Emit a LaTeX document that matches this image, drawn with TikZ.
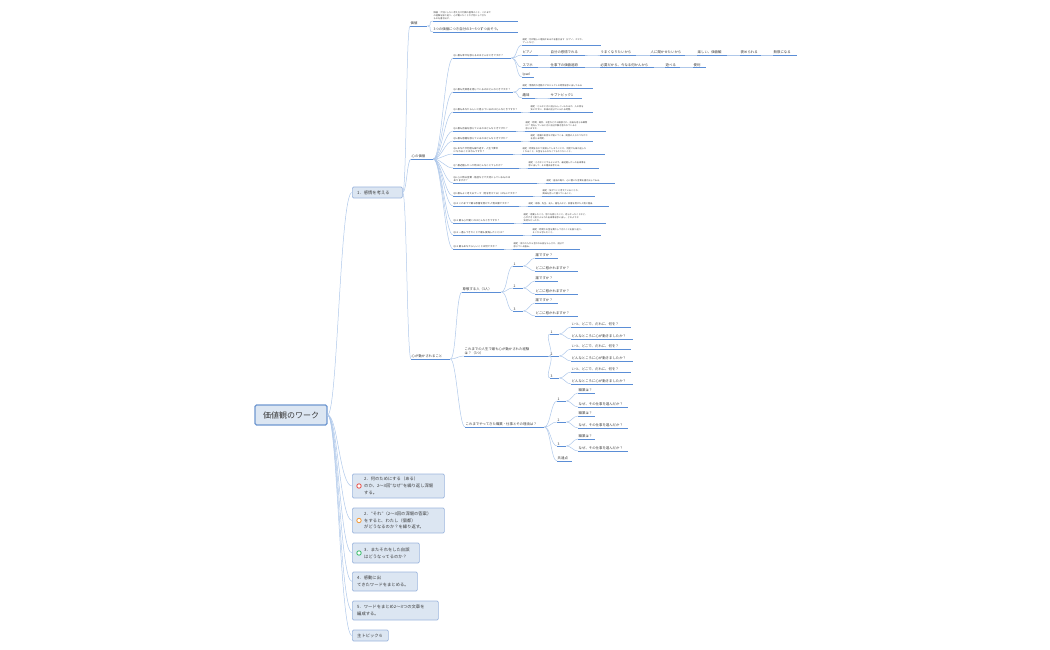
\documentclass[tikz,border=0pt]{standalone}
\usepackage{fontspec}
\newfontfamily\jp{Noto Sans CJK JP}
\definecolor{txt}{HTML}{3A3A3A}
\definecolor{ulc}{HTML}{5B8ED6}
\definecolor{cnc}{HTML}{AFC8EA}
\definecolor{boxf}{HTML}{DCE6F2}
\definecolor{boxd}{HTML}{9BB5DD}
\definecolor{rootd}{HTML}{6E97D0}
\definecolor{icr}{HTML}{E8554E}
\definecolor{ico}{HTML}{F39C3D}
\definecolor{icg}{HTML}{3DBE6E}
\tikzset{
  tp/.style={anchor=south west, inner xsep=0.5pt, inner ysep=0.7pt, align=left, text=txt},
  l3/.style={font=\jp\fontsize{3.4}{4.3}\selectfont},
  qs/.style={font=\jp\fontsize{2.4}{3.3}\selectfont},
  nt/.style={font=\jp\fontsize{2.2}{3.2}\selectfont},
  ul/.style={draw=ulc, line width=0.6pt},
  cn/.style={draw=cnc, line width=0.5pt},
  rootbox/.style={draw=rootd, fill=boxf, line width=1.1pt, rounded corners=1.5pt, minimum width=72pt, minimum height=20pt, text=txt, font=\jp\fontsize{8}{9}\selectfont},
  brbox/.style={draw=boxd, fill=boxf, line width=0.7pt, rounded corners=1.2pt, anchor=west, inner sep=0pt},
  brtext/.style={anchor=west, align=left, inner sep=0pt, text=txt, font=\jp\fontsize{4.3}{6.8}\selectfont},
  ic/.style={circle, draw=#1, fill=white, line width=0.9pt, inner sep=0pt, minimum size=4.4pt}
}
\newcommand\tpc[7][6]{%
  \node[tp,#6,text width=#5pt] (#2) at (#4) {#7};
  \draw[ul] (#2.south west) -- (#2.south east);
  \draw[cn] (#3) .. controls +(#1,0) and +(-#1,0) .. (#2.south west);
}
\begin{document}
\begin{tikzpicture}[x=1pt,y=-1pt]
\useasboundingbox (0,0) rectangle (1050,650);

% root
\node[rootbox] (root) at (291,415) {価値観のワーク};

% branch boxes
\node[brbox, minimum width=50pt, minimum height=11pt] (b1) at (352,192.5) {};
\node[brtext] (b1t) at (357,192.5) {1．感情を考える};
\node[brbox, minimum width=92pt, minimum height=24pt] (b2) at (352,486) {};
\node[ic=icr] (b2i) at (359,486) {};
\node[brtext] (b2t) at (364,486) {2．何のためにする（ある）\\のか、2～3回“なぜ”を繰り返し深堀\\する。};
\node[brbox, minimum width=92pt, minimum height=25pt] (b3) at (352,520.5) {};
\node[ic=ico] (b3i) at (359,520.5) {};
\node[brtext] (b3t) at (364,520.5) {2．“それ”（2～3回の深堀の答案）\\をすると、わたし（個都）\\がどうなるのか？を繰り返す。};
\node[brbox, minimum width=67pt, minimum height=20pt] (b4) at (352,553) {};
\node[ic=icg] (b4i) at (359,553) {};
\node[brtext] (b4t) at (364,553) {3．またそれをした自誤\\はどうなってるのか？};
\node[brbox, minimum width=65pt, minimum height=19pt] (b5) at (352,581.5) {};
\node[brtext] (b5t) at (357,581.5) {4．感動に出\\てきたワードをまとめる。};
\node[brbox, minimum width=86pt, minimum height=19pt] (b6) at (352,610.5) {};
\node[brtext] (b6t) at (357,610.5) {5．ワードをまとめ2～3つの文章を\\編成する。};
\node[brbox, minimum width=36pt, minimum height=11pt] (b7) at (352,635.5) {};
\node[brtext] (b7t) at (357,635.5) {主トピック６};

\foreach \b in {b1,b2,b3,b4,b5,b6,b7}
  \draw[cn] (root.east) .. controls +(10,0) and +(-12,0) .. (\b.west);

% level 2 under b1
\tpc[4]{kachi}{b1.east}{410,26}{16}{l3}{価値}
\tpc[4]{kokoro}{b1.east}{411,159}{21}{l3}{心の価値}
\tpc[4]{ugoku}{b1.east}{411,359}{38}{l3}{心が動かされること}

% under kachi
\tpc{kn}{kachi.south east}{433,21}{84}{nt}{価値：大切にしたい考え方や判断の基準のこと。これまで\\の経験を振り返り、心が動いたことや大切にしてきた\\ものを書き出す。}
\tpc{k3}{kachi.south east}{433,32}{84}{l3}{3つの価値につき自分の3～5つずつ出そう。}

% Q items under kokoro
\tpc[8]{q1}{kokoro.south east}{453,58}{57}{qs}{Q1 最も幸せを感じるのはどんなときですか？}
\tpc[8]{q2}{kokoro.south east}{453,92}{59}{qs}{Q2 最も充実感を感じているのはどんなときですか？}
\tpc[8]{q3}{kokoro.south east}{453,112}{67}{qs}{Q3 最もあなたらしいと感じているのはどんなときですか？}
\tpc[8]{q4}{kokoro.south east}{453,131}{62}{qs}{Q4 最も自由を感じているのはどんなときですか？}
\tpc[8]{q5}{kokoro.south east}{453,141}{67}{qs}{Q5 最も感謝を感じているのはどんなときですか？}
\tpc[8]{q6}{kokoro.south east}{453,154}{59}{qs}{Q6 あなたが何度も繰り返す、人生で夢中\\になれることはなんですか？}
\tpc[8]{q7}{kokoro.south east}{453,168}{65}{qs}{Q7 最近嬉しかった時はどんなことでしたか？}
\tpc[8]{q8}{kokoro.south east}{453,183}{83}{qs}{Q8 心に残る言葉・格言などで大切にしているものは\\ありますか？}
\tpc[8]{q9}{kokoro.south east}{453,196}{79}{qs}{Q9 最もよく考えるテーマ（何を考えてる）はなんですか？}
\tpc[8]{q10}{kokoro.south east}{453,206}{65}{qs}{Q10 これまでで最も影響を受けた人物は誰ですか？}
\tpc[8]{q11}{kokoro.south east}{453,223}{60}{qs}{Q11 最も心が動くのはどんなときですか？}
\tpc[8]{q12}{kokoro.south east}{453,235}{69}{qs}{Q12 一番してきたことで最も後悔したことは？}
\tpc[8]{q13}{kokoro.south east}{453,249}{50}{qs}{Q13 最もあなたらしいことは何ですか？}

% Q1 children
\tpc{n1}{q1.south east}{522,45}{78}{nt}{補足：何が嬉しい理由かあるかを書き出す（ピアノ、スマホ、\\アートなど）}
\tpc{piano}{q1.south east}{522,55}{15}{l3}{ピアノ}
\tpc{p1}{piano.south east}{550,55}{34}{l3}{自分の感情でれる}
\tpc{p2}{p1.south east}{600,55}{35}{l3}{うまくなりたいから}
\tpc{p3}{p2.south east}{650,55}{34}{l3}{人に聞かせたいから}
\tpc{p4}{p3.south east}{697,55}{29}{l3}{楽しい、価値観}
\tpc{p5}{p4.south east}{740,55}{20}{l3}{褒められる}
\tpc{p6}{p5.south east}{773,55}{23}{l3}{無限になる}
\tpc{sumaho}{q1.south east}{522,67.5}{15}{l3}{スマホ}
\tpc{s1}{sumaho.south east}{550,67.5}{34}{l3}{仕事下の価値追跡}
\tpc{s2}{s1.south east}{600,67.5}{53}{l3}{必要だから、今なる何かんから}
\tpc{s3}{s2.south east}{665,67.5}{14}{l3}{遊べる}
\tpc{s4}{s3.south east}{693,67.5}{12}{l3}{便利}
\tpc{ipad}{q1.south east}{522,77}{11}{l3}{Ipad}

% Q2 children
\tpc{n2}{q2.south east}{522,88}{70}{nt}{補足：情熱的な活動やプロジェクトの時間を思い出してみる}
\tpc{shumi}{q2.south east}{522,98}{12}{l3}{趣味}
\tpc{sub1}{shumi.south east}{550,98}{31}{l3}{サブトピック1}

% notes Q3 - Q13
\tpc{n3}{q3.south east}{530,112}{62}{nt}{補足：どんなときに自分らしくいられるか、人の目を\\気にせずに、本来の自分でいられる時間。}
\tpc{n4}{q4.south east}{525,131}{80}{nt}{補足：時間、場所、お金などから解放され、自由を感じる瞬間\\は？ 何をしているときに自分が解き放たれていると\\感じますか。}
\tpc{n5}{q5.south east}{530,141}{62}{nt}{補足：感謝の気持ちが湧いてくる、周囲の人とのつながり\\を感じる時間。}
\tpc{n6}{q6.south east}{522,154}{82}{nt}{補足：時間を忘れて没頭してしまうことや、何度でも繰り返した\\くなること。お金をもらわなくてもやりたいこと。}
\tpc{n7}{q7.south east}{528,168}{70}{nt}{補足：小さなことでもよいので、最近嬉しかった出来事を\\思い出して、その理由を考える。}
\tpc{n8}{q8.south east}{546,183}{68}{nt}{補足：座右の銘や、心に響いた言葉を書き出してみる。}
\tpc{n9}{q9.south east}{542,196}{52}{nt}{補足：気がつくと考えていることや、\\興味を持って調べていること。}
\tpc{n10}{q10.south east}{528,206}{80}{nt}{補足：家族、先生、友人、著名人など、影響を受けた人物と理由。}
\tpc{n11}{q11.south east}{523,223}{82}{nt}{補足：感動したこと、怒りを感じたこと、悲しかったことなど、\\心が大きく揺さぶられた出来事を思い出し、どのような\\気持ちだったか。}
\tpc{n12}{q12.south east}{532,235}{68}{nt}{補足：時間やお金を費やしてきたことを振り返り、\\そこから学んだこと。}
\tpc{n13}{q13.south east}{513,249}{66}{nt}{補足：周りの人から言われる自分らしさや、自分で\\感じている強み。}

% under ugoku
\tpc[6]{sonkei}{ugoku.south east}{462,292}{38}{l3}{尊敬する人（3人）}
\tpc[6]{keiken}{ugoku.south east}{464,356}{84}{l3}{これまでの人生で最も心が動かされた経験\\は？（3つ）}
\tpc[6]{shoku}{ugoku.south east}{465,427}{78}{l3}{これまでやってきた職業・仕事とその理由は？}

\tpc{k1}{sonkei.south east}{513,266}{9}{l3}{1}
\tpc{k2}{sonkei.south east}{513,288}{9}{l3}{2}
\tpc{k3n}{sonkei.south east}{513,311}{9}{l3}{3}
\tpc[5]{k1a}{k1.south east}{535,258}{22}{l3}{誰ですか？}
\tpc[5]{k1b}{k1.south east}{535,271}{42}{l3}{どこに惹かれますか？}
\tpc[5]{k2a}{k2.south east}{535,281}{22}{l3}{誰ですか？}
\tpc[5]{k2b}{k2.south east}{535,294}{42}{l3}{どこに惹かれますか？}
\tpc[5]{k3a}{k3n.south east}{535,303}{22}{l3}{誰ですか？}
\tpc[5]{k3b}{k3n.south east}{535,316}{42}{l3}{どこに惹かれますか？}

\tpc{e1}{keiken.south east}{550,334}{8}{l3}{1}
\tpc{e2}{keiken.south east}{550,356}{8}{l3}{2}
\tpc{e3}{keiken.south east}{550,378}{8}{l3}{3}
\tpc[5]{e1a}{e1.south east}{571,327}{59}{l3}{いつ、どこで、だれに、何を？}
\tpc[5]{e1b}{e1.south east}{571,339}{61}{l3}{どんなところに心が動きましたか？}
\tpc[5]{e2a}{e2.south east}{571,349}{59}{l3}{いつ、どこで、だれに、何を？}
\tpc[5]{e2b}{e2.south east}{571,361}{61}{l3}{どんなところに心が動きましたか？}
\tpc[5]{e3a}{e3.south east}{571,372}{59}{l3}{いつ、どこで、だれに、何を？}
\tpc[5]{e3b}{e3.south east}{571,384}{61}{l3}{どんなところに心が動きましたか？}

\tpc{j1}{shoku.south east}{557,401}{8}{l3}{1}
\tpc{j2}{shoku.south east}{557,422}{8}{l3}{2}
\tpc{j3}{shoku.south east}{557,446}{8}{l3}{3}
\tpc{kyotsu}{shoku.south east}{557,461}{14}{l3}{共通点}
\tpc[5]{j1a}{j1.south east}{578,393}{16}{l3}{職業は？}
\tpc[5]{j1b}{j1.south east}{578,407}{49}{l3}{なぜ、その仕事を選んだか？}
\tpc[5]{j2a}{j2.south east}{578,416}{16}{l3}{職業は？}
\tpc[5]{j2b}{j2.south east}{578,428}{49}{l3}{なぜ、その仕事を選んだか？}
\tpc[5]{j3a}{j3.south east}{578,439}{16}{l3}{職業は？}
\tpc[5]{j3b}{j3.south east}{578,451}{49}{l3}{なぜ、その仕事を選んだか？}
\end{tikzpicture}
\end{document}
